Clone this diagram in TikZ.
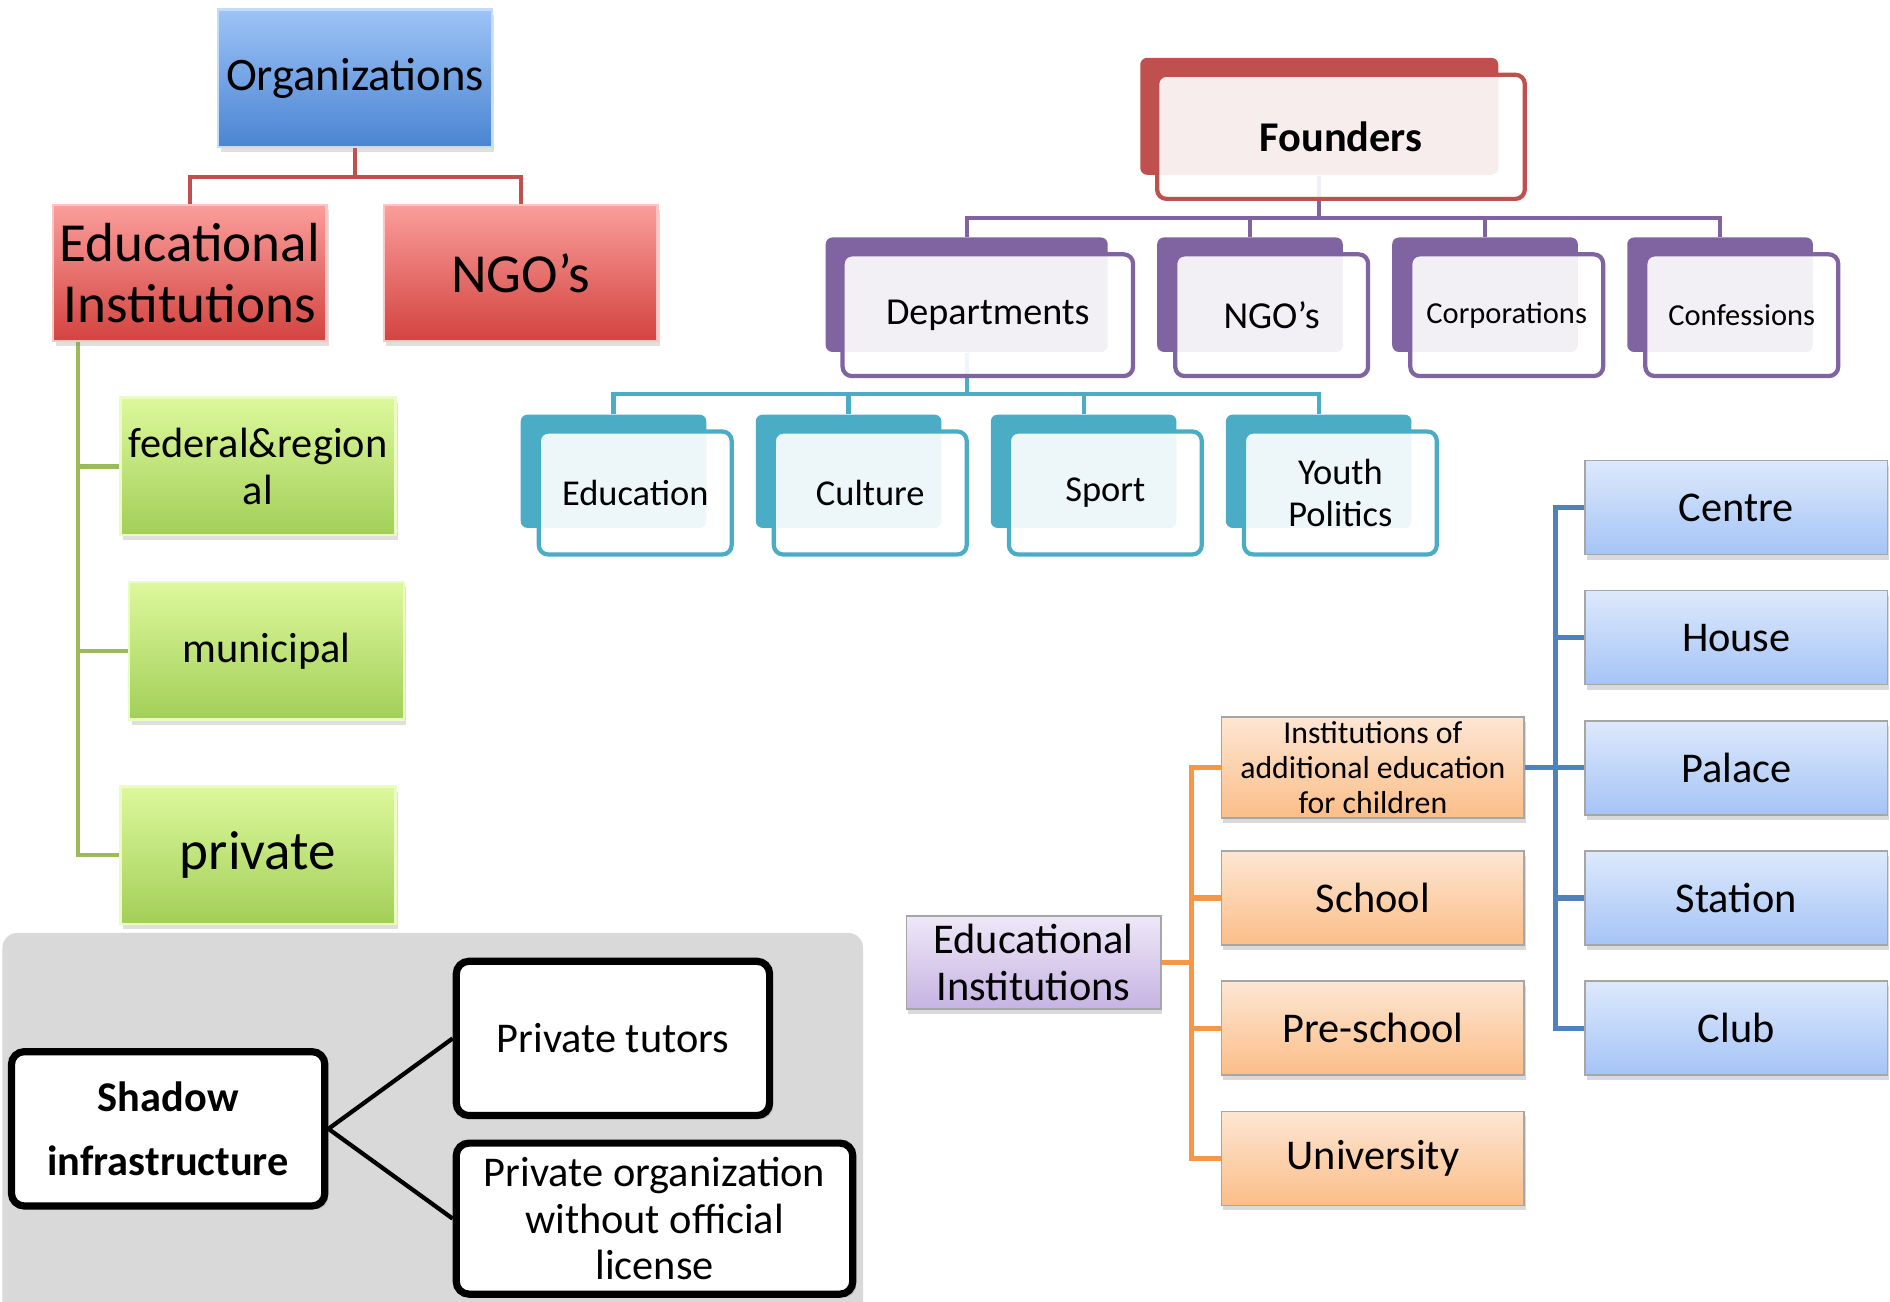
\documentclass[tikz,border=0pt]{standalone}
\usepackage{fontspec}
\setmainfont{Carlito}
\usepackage{tikz}
\usetikzlibrary{positioning, shadows, backgrounds}

\definecolor{offblue}{HTML}{4F81BD}
\definecolor{offred}{HTML}{C0504D}
\definecolor{offgreen}{HTML}{9BBB59}
\definecolor{offpurple}{HTML}{8064A2}
\definecolor{offaqua}{HTML}{4BACC6}
\definecolor{offorange}{HTML}{F79646}
\definecolor{orgtop}{HTML}{9DC3F7}
\definecolor{orgbot}{HTML}{4A85D1}
\definecolor{redtop}{HTML}{FA9E9B}
\definecolor{redbot}{HTML}{D3433F}
\definecolor{greentop}{HTML}{DDF89C}
\definecolor{greenbot}{HTML}{A2CF58}
\definecolor{paleblue}{HTML}{DDE9FC}
\definecolor{midblue}{HTML}{A5C4F6}
\definecolor{paleorange}{HTML}{FDE6D3}
\definecolor{midorange}{HTML}{FBBE88}
\definecolor{palepurple}{HTML}{EEE8F7}
\definecolor{midpurple}{HTML}{C6B3E2}
\definecolor{shadowbg}{HTML}{D9D9D9}

\begin{document}
\begin{tikzpicture}[
    bevelbox/.style={rectangle, align=center, inner sep=1pt, line width=0.6pt,
        drop shadow={shadow xshift=0.6pt, shadow yshift=-1.2pt, opacity=0.25}},
    orgbox/.style={bevelbox, draw=orgtop!60!white, top color=orgtop, bottom color=orgbot,
        minimum width=2.27cm, minimum height=1.14cm, font=\fontsize{11}{13}\selectfont},
    redbox/.style={bevelbox, draw=redtop!60!white, top color=redtop, bottom color=redbot,
        minimum width=2.27cm, minimum height=1.13cm, font=\fontsize{13}{14.5}\selectfont},
    greenbox/.style={bevelbox, draw=greentop!60!white, top color=greentop, bottom color=greenbot,
        minimum width=2.28cm, minimum height=1.14cm, font=\fontsize{10}{11.1}\selectfont},
    subtlebox/.style={rectangle, align=center, inner sep=1pt, draw=black!35, line width=0.4pt,
        minimum width=2.51cm, minimum height=0.78cm, font=\fontsize{10}{11.1}\selectfont,
        drop shadow={shadow xshift=0.4pt, shadow yshift=-1.2pt, opacity=0.3}},
    bluebox/.style={subtlebox, top color=paleblue, bottom color=midblue},
    orangebox/.style={subtlebox, top color=paleorange, bottom color=midorange},
    purplebox/.style={subtlebox, top color=palepurple, bottom color=midpurple},
    backbox/.style={rectangle, rounded corners=1.6pt, fill=#1, minimum width=1.54cm, minimum height=0.94cm},
    frontbox/.style={rectangle, rounded corners=2.2pt, draw=#1, line width=1pt, fill=white,
        fill opacity=0.9, text opacity=1, align=center, minimum width=1.6cm, minimum height=1.02cm},
    shadowbox/.style={rectangle, rounded corners=3pt, draw=black, line width=1.7pt, fill=white,
        align=center, minimum width=2.6cm, minimum height=1.28cm, font=\fontsize{10}{11}\selectfont,
        drop shadow={shadow xshift=0.8pt, shadow yshift=-0.8pt, opacity=0.4}},
    link/.style={line width=1pt}
]
\useasboundingbox (0,0) rectangle (15.68,-10.80);

% organizations tree
\node[orgbox] (org) at (2.945,-0.65) {Organizations};
\node[redbox] (eduinst) at (1.575,-2.265) {Educational\\Institutions};
\node[redbox] (ngo) at (4.32,-2.265) {NGO’s};
\node[greenbox] (federal) at (2.14,-3.87) {federal\&region\\al};
\node[greenbox] (municipal) at (2.21,-5.40) {municipal};
\node[greenbox, font=\fontsize{13}{14.5}\selectfont] (private) at (2.14,-7.095) {private};

% shadow infrastructure
\node[shadowbox, font=\fontsize{10}{15}\selectfont\bfseries] (shadow) at (1.395,-9.365) {Shadow\\infrastructure};
\node[shadowbox] (tutors) at (5.085,-8.615) {Private tutors};
\node[shadowbox, minimum width=3.29cm, minimum height=1.25cm] (license) at (5.43,-10.11) {Private organization\\without official\\license};

% founders
\node[backbox=offred, minimum width=2.97cm, minimum height=0.97cm] (foundersback) at (10.945,-0.965) {};
\node[frontbox=offred, minimum width=3.05cm, minimum height=1.03cm, font=\fontsize{10}{12}\selectfont\bfseries] (founders) at (11.125,-1.135) {Founders};

\node[backbox=offpurple, minimum width=2.34cm, minimum height=0.95cm] (deptback) at (8.02,-2.445) {};
\node[frontbox=offpurple, minimum width=2.41cm, minimum height=1.01cm, font=\fontsize{9}{11}\selectfont] (dept) at (8.195,-2.615) {Departments};
\node[backbox=offpurple, minimum height=0.95cm] (ngoback) at (10.37,-2.445) {};
\node[frontbox=offpurple, minimum height=1.01cm, font=\fontsize{9}{11}\selectfont] (ngofront) at (10.55,-2.615) {NGO’s};
\node[backbox=offpurple, minimum height=0.95cm] (corpback) at (12.32,-2.445) {};
\node[frontbox=offpurple, minimum height=1.01cm, font=\fontsize{7.2}{9}\selectfont] (corp) at (12.50,-2.615) {Corporations};
\node[backbox=offpurple, minimum height=0.95cm] (confback) at (14.27,-2.445) {};
\node[frontbox=offpurple, minimum height=1.01cm, font=\fontsize{7.2}{9}\selectfont] (conf) at (14.45,-2.615) {Confessions};

\node[backbox=offaqua] (eduback) at (5.09,-3.91) {};
\node[frontbox=offaqua, font=\fontsize{8.6}{9.8}\selectfont] (edu) at (5.27,-4.09) {Education};
\node[backbox=offaqua] (cultback) at (7.04,-3.91) {};
\node[frontbox=offaqua, font=\fontsize{8.6}{9.8}\selectfont] (cult) at (7.22,-4.09) {Culture};
\node[backbox=offaqua] (sportback) at (8.99,-3.91) {};
\node[frontbox=offaqua, font=\fontsize{8.6}{9.8}\selectfont] (sport) at (9.17,-4.09) {Sport};
\node[backbox=offaqua] (youthback) at (10.94,-3.91) {};
\node[frontbox=offaqua, font=\fontsize{8.6}{9.8}\selectfont] (youth) at (11.12,-4.09) {Youth\\Politics};

% types of educational institutions
\node[purplebox, minimum width=2.11cm, minimum height=0.77cm] (eduright) at (8.575,-7.985) {Educational\\Institutions};
\node[orangebox, font=\fontsize{7.5}{8.3}\selectfont] (extra) at (11.39,-6.37) {Institutions of\\additional education\\for children};
\node[orangebox] (school) at (11.39,-7.45) {School};
\node[orangebox] (preschool) at (11.39,-8.53) {Pre-school};
\node[orangebox] (university) at (11.39,-9.61) {University};

\node[bluebox] (centre) at (14.405,-4.21) {Centre};
\node[bluebox] (house) at (14.405,-5.29) {House};
\node[bluebox] (palace) at (14.405,-6.37) {Palace};
\node[bluebox] (station) at (14.405,-7.45) {Station};
\node[bluebox] (club) at (14.405,-8.53) {Club};

\begin{scope}[on background layer]
\fill[shadowbg, rounded corners=3.5pt] (0.02,-11.2) rectangle (7.16,-7.74);

\draw[link, offred] (org.south) -- ++(0,-0.24) -| (eduinst.north);
\draw[link, offred] (org.south) -- ++(0,-0.24) -| (ngo.north);

\draw[link, offgreen] ([xshift=0.22cm]eduinst.south west) |- (federal.west);
\draw[link, offgreen] ([xshift=0.22cm]eduinst.south west) |- (municipal.west);
\draw[link, offgreen] ([xshift=0.22cm]eduinst.south west) |- (private.west);

\draw[link] (shadow.east) -- (tutors.west);
\draw[link] (shadow.east) -- (license.west);

\draw[link, offpurple] (foundersback.south) -- ++(0,-0.35) -| (deptback.north);
\draw[link, offpurple] (foundersback.south) -- ++(0,-0.35) -| (ngoback.north);
\draw[link, offpurple] (foundersback.south) -- ++(0,-0.35) -| (corpback.north);
\draw[link, offpurple] (foundersback.south) -- ++(0,-0.35) -| (confback.north);

\draw[link, offaqua] (deptback.south) -- ++(0,-0.34) -| (eduback.north);
\draw[link, offaqua] (deptback.south) -- ++(0,-0.34) -| (cultback.north);
\draw[link, offaqua] (deptback.south) -- ++(0,-0.34) -| (sportback.north);
\draw[link, offaqua] (deptback.south) -- ++(0,-0.34) -| (youthback.north);

\draw[link, line width=1.2pt, offorange] (eduright.east) -- ++(0.25,0) |- (extra.west);
\draw[link, line width=1.2pt, offorange] (eduright.east) -- ++(0.25,0) |- (school.west);
\draw[link, line width=1.2pt, offorange] (eduright.east) -- ++(0.25,0) |- (preschool.west);
\draw[link, line width=1.2pt, offorange] (eduright.east) -- ++(0.25,0) |- (university.west);

\draw[link, line width=1.2pt, offblue] (extra.east) -- ++(0.25,0) |- (centre.west);
\draw[link, line width=1.2pt, offblue] (extra.east) -- ++(0.25,0) |- (house.west);
\draw[link, line width=1.2pt, offblue] (extra.east) -- ++(0.25,0) |- (palace.west);
\draw[link, line width=1.2pt, offblue] (extra.east) -- ++(0.25,0) |- (station.west);
\draw[link, line width=1.2pt, offblue] (extra.east) -- ++(0.25,0) |- (club.west);
\end{scope}

\end{tikzpicture}
\end{document}
